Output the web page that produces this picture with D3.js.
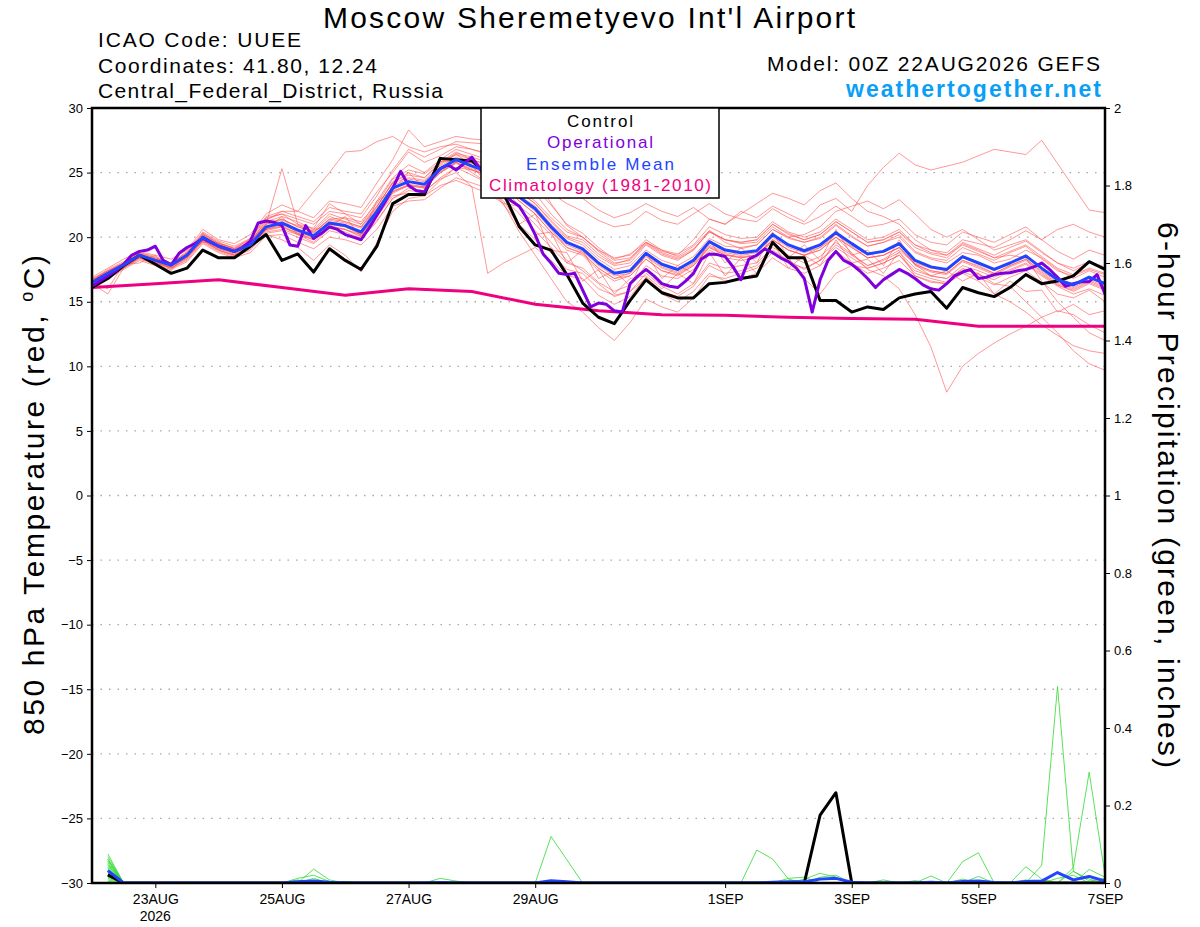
<!DOCTYPE html>
<html>
<head>
<meta charset="utf-8">
<script src="https://cdn.jsdelivr.net/npm/d3@7"></script>
<style>
  body { margin: 0; background: #fff; }
  svg { font-family: "Liberation Sans", Arial, Helvetica, sans-serif; }
</style>
</head>
<body>
<div id="chart"></div>
<script>
// ---- data (6-hourly from 00Z 22AUG2026) ----
const runStart = new Date(Date.UTC(2026, 7, 22, 0));
const runEnd = new Date(Date.UTC(2026, 8, 7, 0));

const dateTicks = ["2026-08-23", "2026-08-25", "2026-08-27", "2026-08-29", "2026-09-01", "2026-09-03", "2026-09-05", "2026-09-07"];
const dateLabels = ["23AUG", "25AUG", "27AUG", "29AUG", "1SEP", "3SEP", "5SEP", "7SEP"];
const tempTicks = [30, 25, 20, 15, 10, 5, 0, -5, -10, -15, -20, -25, -30];
const precipTicks = [2, 1.8, 1.6, 1.4, 1.2, 1, 0.8, 0.6, 0.4, 0.2, 0];
const precipTickLabels = ["2", "1.8", "1.6", "1.4", "1.2", "1", "0.8", "0.6", "0.4", "0.2", "0"];
const gridTemps = [25, 20, 15, 10, 5, 0, -5, -10, -15, -20, -25];

// control run, 850 hPa temp (6-hourly)
const controlT = [
  16.1, 16.8, 17.8, 18.6, 17.9, 17.2, 17.6, 19.0, 18.4, 18.4, 19.3, 20.2, 18.2,
  18.7, 17.3, 19.1, 18.2, 17.5, 19.3, 22.6, 23.3, 23.3, 26.1, 26.0, 25.9, 24.8,
  23.4, 20.8, 19.4, 19.0, 17.1, 14.9, 13.8, 13.3, 15.1, 16.7, 15.7, 15.3, 15.3,
  16.4, 16.5, 16.8, 17.0, 19.6, 18.4, 18.4, 15.1, 15.1, 14.2, 14.6, 14.4, 15.3,
  15.6, 15.8, 14.5, 16.1, 15.7, 15.4, 16.1, 17.1, 16.4, 16.6, 17.0, 18.1, 17.5
];

// operational run (3-hourly)
const operationalT = [
  16.2, 16.6, 17.0, 17.4, 17.9, 18.6, 18.9, 19.0, 19.3, 18.2, 17.85, 18.75, 19.2,
  19.5, 19.9, 19.6, 19.3, 19.1, 18.9, 19.2, 19.7, 21.1, 21.25, 21.15, 20.9, 19.4,
  19.3, 20.9, 19.9, 20.3, 20.8, 20.6, 20.2, 20.0, 19.8, 20.7, 21.7, 22.7, 23.8,
  25.1, 24.0, 23.6, 23.5, 24.6, 25.3, 25.6, 25.2, 25.7, 26.2, 25.3, 24.5, 23.8,
  23.3, 22.8, 22.4, 21.4, 20.2, 18.7, 18.0, 17.2, 17.1, 17.2, 15.9, 14.6, 14.9,
  14.8, 14.3, 14.2, 16.4, 17.0, 17.5, 17.0, 16.4, 16.2, 16.1, 16.6, 17.2, 18.3,
  18.7, 18.65, 18.5, 17.7, 16.7, 18.3, 18.6, 19.1, 18.8, 18.4, 18.1, 17.6, 16.8,
  14.2, 16.7, 18.2, 18.9, 18.2, 17.9, 17.4, 16.8, 16.1, 16.7, 17.1, 17.5, 17.2,
  16.8, 16.3, 16.0, 15.9, 16.4, 17.0, 17.3, 17.5, 16.8, 16.9, 17.1, 17.2, 17.25,
  17.4, 17.5, 17.7, 18.0, 17.5, 16.9, 16.2, 16.4, 16.55, 16.55, 17.1, 15.6
];

// ensemble mean (6-hourly)
const meanT = [
  16.5, 17.2, 17.85, 18.6, 18.2, 17.85, 18.6, 20.0, 19.3, 18.9, 19.4, 20.8, 21.1,
  20.55, 20.1, 21.1, 20.9, 20.4, 22.0, 23.8, 24.3, 24.1, 25.3, 26.0, 25.5, 25.1,
  24.3, 23.1, 22.2, 20.8, 19.6, 19.1, 18.0, 17.2, 17.4, 18.75, 17.9, 17.5, 18.2,
  19.65, 19.0, 18.8, 18.95, 20.2, 19.4, 18.95, 19.4, 20.35, 19.5, 18.7, 18.9, 19.5,
  18.2, 17.7, 17.5, 18.5, 18.0, 17.5, 18.0, 18.55, 17.6, 16.7, 16.3, 16.9, 16.4
];

// climatology 1981-2010 (daily, 00Z)
const climT = [16.1, 16.4, 16.7, 16.1, 15.5, 16.0, 15.8, 14.8, 14.3, 14.0, 13.95, 13.8, 13.7, 13.65, 13.1, 13.1, 13.1];

// perturbed members, 850 hPa temp (6-hourly)
const memberT = [
  [16.9,17.6,18.3,18.9,18.6,18.3,19.0,20.6,19.8,19.5,20.2,21.8,22.5, 22.0,21.5,22.8,22.6,22.3,24.2,26.0,28.3,27.0,27.4,27.8,27.6,27.5,
   27.0,25.8,24.9,24.0,23.3,23.0,22.1,21.5,21.9,22.6,22.0,21.6,22.3, 21.4,21.0,22.0,21.5,22.4,21.8,21.2,22.5,23.0,22.0,24.0,25.4,26.5,
   25.6,25.2,25.5,25.8,26.3,26.8,26.6,26.4,27.5,25.7,23.9,22.1,21.9],
  [16.2,16.9,17.6,18.3,17.9,17.6,18.2,19.6,18.9,18.5,19.0,20.3,20.5, 20.0,19.5,20.5,20.2,19.8,21.2,23.0,23.6,23.5,24.6,25.4,24.8,24.2,
   23.0,21.8,20.5,19.2,18.0,17.6,16.5,15.8,16.3,17.8,17.0,16.8,17.5, 19.0,18.4,18.2,18.4,19.8,19.0,18.6,19.2,20.0,18.8,17.5,17.0,16.0,
   14.0,11.5,8.0,10.0,11.0,11.8,12.5,13.1,13.8,14.3,14.0,13.2,12.6],
  [16.6,17.4,18.0,18.8,18.4,17.9,18.7,20.3,19.6,19.1,19.9,21.5,21.8, 21.0,20.3,21.4,21.5,21.2,22.6,24.5,25.2,24.9,25.8,26.4,25.6,24.0,
   22.5,21.0,19.8,18.8,17.5,17.2,16.0,15.5,15.8,17.2,16.2,15.6,16.4, 18.0,17.6,17.8,18.0,19.2,18.6,18.0,18.5,19.6,18.7,17.8,18.2,18.8,
   17.6,17.0,16.8,17.5,17.2,16.4,16.2,15.0,13.8,12.6,11.2,10.2,9.7],
  [16.4,17.0,17.6,18.4,18.0,17.7,18.5,19.8,19.1,18.8,19.6,21.0,25.3, 21.0,20.7,22.6,21.8,21.0,22.4,24.2,25.0,24.6,25.7,26.5,26.2,25.8,
   25.5,24.6,23.8,22.5,21.0,20.3,19.2,18.3,18.7,19.6,19.0,18.5,19.3, 20.5,19.6,19.1,19.4,20.6,19.9,19.6,19.9,20.9,20.0,19.3,19.6,20.0,
   18.8,18.3,18.0,18.8,18.6,18.0,18.3,19.0,18.4,17.5,16.8,17.4,16.9],
  [16.3,17.0,17.7,18.5,18.1,17.8,18.4,19.8,19.0,18.6,19.2,20.4,20.6, 20.2,19.6,20.7,20.4,19.9,21.3,23.0,23.8,23.6,24.5,25.0,23.9,17.2,
   18.0,18.6,19.2,18.2,17.0,16.8,15.5,14.8,15.4,16.9,15.8,15.4,16.2, 17.8,17.2,17.4,17.8,19.0,18.2,17.5,18.2,19.2,18.4,17.6,18.0,18.6,
   17.2,16.8,16.5,17.6,17.1,16.7,17.4,17.9,17.0,16.2,15.6,16.0,15.5],
  [16.7,17.5,18.1,18.8,18.5,18.0,18.9,20.4,19.7,19.3,19.9,21.6,22.0, 21.6,21.2,22.3,22.0,21.8,23.5,25.0,26.6,25.8,26.3,27.0,26.8,26.5,
   26.0,25.2,24.4,23.4,22.6,22.0,21.3,20.8,21.0,22.0,21.3,21.0,21.8, 22.6,21.8,21.4,21.2,22.2,21.5,21.0,21.6,22.4,21.6,20.8,21.0,21.4,
   20.2,19.6,19.4,20.4,20.0,19.6,20.2,20.8,19.8,18.9,18.3,19.0,18.6],
  [16.5,17.2,17.9,18.6,18.3,17.9,18.6,19.9,19.2,18.8,19.3,20.6,20.9, 20.3,19.8,20.8,20.6,20.0,21.6,23.4,24.0,23.9,25.0,25.8,25.0,24.2,
   22.6,20.4,18.6,16.8,15.0,14.2,13.0,12.0,13.4,15.2,14.6,14.2,15.3, 17.0,16.8,17.2,17.6,18.8,18.0,17.6,18.2,19.4,18.6,17.8,18.3,19.0,
   17.9,17.4,17.2,18.2,17.7,17.2,17.8,18.3,17.4,16.5,16.1,16.7,16.2],
  [16.8,17.4,18.0,18.7,18.3,18.0,18.8,20.2,19.5,19.1,19.7,21.2,21.6, 21.2,20.6,21.8,21.4,21.0,22.8,24.6,25.6,25.0,26.0,26.8,26.4,26.0,
   25.0,23.6,22.8,21.5,20.4,20.0,18.9,18.0,18.2,19.5,18.7,18.3,19.0, 20.5,19.8,19.6,19.8,21.0,20.3,19.8,20.2,21.2,20.4,19.6,19.8,20.4,
   19.2,18.7,18.4,19.5,19.0,18.4,18.6,18.4,16.6,15.0,13.8,12.6,12.0],
  [16.1,16.8,17.5,18.2,17.8,17.5,18.1,19.5,18.8,18.4,18.8,20.1,20.2, 19.6,19.1,20.0,19.8,19.4,20.6,22.4,22.8,22.9,23.8,24.6,24.2,23.8,
   22.8,21.0,21.8,19.0,18.8,16.6,17.5,15.6,16.8,17.0,16.0,17.2,16.4, 18.8,17.0,18.4,17.2,19.6,17.6,18.6,17.8,19.8,18.0,18.3,17.2,18.9,
   17.0,16.5,16.4,17.3,16.9,16.3,16.9,17.4,16.5,15.6,15.3,15.9,15.0],
  [16.6,17.3,18.0,18.7,18.2,17.9,18.6,20.1,19.4,19.0,19.6,21.0,21.3, 20.9,20.5,21.6,21.2,20.8,22.3,24.3,24.8,24.6,25.8,26.6,26.0,25.6,
   24.6,23.5,22.6,21.3,20.1,19.8,18.7,17.9,18.3,19.6,18.9,18.6,19.8, 21.4,21.0,21.8,22.6,23.4,23.0,22.5,23.6,24.2,23.0,22.0,21.6,21.0,
   19.8,19.0,18.6,19.4,18.9,18.4,18.9,19.4,18.5,17.6,17.1,17.6,17.2],
  [16.5,16.0,17.9,18.0,18.6,17.4,18.8,19.6,19.6,18.6,19.8,20.6,21.6, 20.2,20.6,20.8,21.6,20.0,22.8,23.6,25.0,23.8,25.9,25.8,26.2,25.0,
   24.4,23.0,22.0,20.6,19.2,18.8,17.6,16.8,17.2,18.6,17.7,17.3,18.0, 19.4,18.8,18.6,18.8,20.0,19.2,18.8,19.2,20.2,19.3,18.4,18.6,19.2,
   17.9,17.4,17.2,18.2,17.8,17.2,17.8,18.3,17.3,16.4,16.0,16.6,16.1],
  [16.3,17.0,17.7,18.4,18.0,17.7,18.4,19.8,19.1,18.7,19.3,20.6,21.0, 20.4,20.0,21.0,20.8,20.2,21.8,23.6,24.0,23.8,25.0,25.8,25.3,25.0,
   24.0,22.8,21.8,20.4,19.4,18.9,17.8,17.0,17.2,18.5,17.6,17.2,17.9, 19.3,18.7,18.4,18.6,19.6,18.4,16.8,15.6,17.2,17.8,17.6,18.0,18.6,
   17.4,17.0,16.8,17.8,17.4,16.9,17.5,18.0,17.1,16.3,15.8,16.4,15.9],
  [16.7,17.3,18.0,18.7,18.3,18.0,18.8,20.3,19.5,19.2,19.8,21.4,21.8, 21.4,21.0,22.0,21.8,21.5,23.2,25.2,26.8,26.2,26.8,27.4,27.3,27.2,
   26.8,26.2,24.8,22.6,20.9,20.0,19.0,18.2,18.4,19.6,18.8,18.4,19.1, 20.4,19.8,19.5,19.6,20.8,20.0,19.6,20.0,21.0,20.1,19.3,19.6,20.2,
   18.9,18.4,18.2,19.2,18.7,18.2,18.8,19.3,18.3,17.4,17.0,17.5,17.1],
  [16.4,15.6,17.6,18.5,18.1,17.6,18.3,19.7,19.0,18.6,19.1,20.2,19.8, 19.2,18.2,19.4,18.6,17.3,19.6,22.0,23.0,23.2,24.4,25.4,25.2,24.8,
   23.8,22.4,21.4,20.2,19.0,18.6,17.4,16.6,17.0,18.3,17.4,17.0,17.8, 19.2,18.6,18.4,18.6,19.8,19.0,18.6,19.0,20.0,19.2,18.4,18.6,19.2,
   18.0,17.6,17.4,18.4,18.0,17.4,18.0,18.6,17.6,16.8,16.4,16.9,16.5],
  [16.6,17.3,17.9,18.6,18.2,17.9,18.7,20.1,19.4,19.0,19.6,21.3,22.0, 22.0,23.5,25.0,26.6,26.7,27.4,27.8,27.0,26.6,27.0,27.2,26.8,26.4,
   25.4,24.2,23.4,21.8,20.6,20.0,19.0,18.4,18.6,19.8,19.0,18.7,19.4, 20.8,20.2,19.9,20.0,21.2,20.4,20.0,20.4,21.4,20.6,19.8,20.0,20.6,
   19.4,18.8,18.6,19.6,19.1,18.6,19.2,19.7,18.8,18.0,17.4,18.0,17.6],
  [16.2,16.9,17.6,18.4,18.0,17.7,18.5,19.8,19.2,18.8,19.3,20.6,20.8, 20.3,19.9,20.9,20.6,20.2,21.7,23.5,24.0,23.8,25.0,25.7,25.2,24.7,
   23.6,22.2,21.0,19.6,18.2,17.4,16.4,15.4,15.8,16.8,15.6,15.0,15.8, 17.2,16.6,16.8,17.2,18.4,17.6,17.2,17.8,18.9,18.0,17.2,17.6,18.2,
   17.0,16.6,16.4,17.2,16.6,15.6,15.0,14.2,13.2,12.4,11.6,11.2,11.0],
  [16.5,17.2,17.9,18.6,18.2,17.9,18.6,20.0,19.4,19.0,19.6,21.0,21.4, 20.8,20.4,21.4,21.2,20.8,22.4,24.2,24.6,24.4,25.6,26.4,26.0,25.6,
   24.8,23.5,22.6,21.2,20.0,19.6,18.5,17.8,18.0,19.4,18.6,18.2,19.0, 20.4,19.8,19.6,19.8,21.0,20.2,19.8,20.2,21.2,20.4,19.6,19.8,20.4,
   19.4,19.0,18.8,19.8,19.5,19.2,19.8,20.5,19.8,20.6,21.0,20.4,20.0],
  [16.4,17.1,17.7,18.5,18.1,17.8,18.5,19.9,19.2,18.8,19.3,20.7,21.0, 20.5,20.0,21.0,20.8,20.3,21.6,23.2,23.4,23.2,24.0,24.4,23.9,23.4,
   22.6,22.4,20.2,20.4,18.0,19.0,16.8,17.4,16.2,18.8,16.8,17.8,17.2, 19.8,18.0,19.2,18.0,20.4,18.4,19.4,18.2,20.6,18.6,19.0,17.8,19.8,
   17.8,17.3,17.1,18.1,17.6,17.1,17.7,18.2,17.2,16.3,15.9,16.5,16.0],
  [16.7,17.4,18.0,18.7,18.4,18.0,18.7,20.2,19.5,19.1,19.6,21.1,21.4, 20.8,20.4,21.3,21.1,20.7,22.2,24.0,24.5,24.3,25.5,26.2,25.7,25.3,
   24.5,23.2,22.4,21.0,19.9,19.4,18.3,17.5,17.8,19.0,18.2,17.8,18.5, 19.9,19.3,19.2,19.4,20.6,20.0,20.2,20.8,22.0,22.4,22.8,22.2,22.9,
   21.8,20.6,20.0,20.6,19.8,19.0,19.4,19.8,18.9,18.0,17.6,18.1,17.7],
  [16.4,17.0,17.7,18.4,18.0,17.6,18.4,19.7,19.0,18.6,19.2,20.5,20.8, 20.2,19.8,20.8,20.6,20.1,21.7,23.5,24.1,23.9,25.1,25.8,25.2,24.9,
   24.0,22.8,21.8,20.4,19.2,18.7,17.6,16.8,17.0,18.3,17.4,17.1,17.8, 19.2,18.6,18.5,18.6,19.8,19.0,18.6,19.0,20.0,19.2,18.4,18.6,19.2,
   17.9,17.0,17.4,16.6,17.2,15.6,16.6,15.8,15.9,14.2,14.8,14.0,14.3]
];

// 6-hour precipitation (inches); first step has no accumulation
const controlP = [
  null,0.021,0,0,0,0,0,0,0,0,0,0,0, 0,0,0,0,0,0,0,0,0,0,0,0,0,
  0,0,0,0,0,0,0,0,0,0,0,0,0, 0,0,0,0,0,0,0,0.175,0.233,0,0,0,0,
  0,0,0,0,0,0,0,0,0,0,0,0,0
];
const meanP = [
  null,0.032,0,0,0,0,0,0,0,0,0,0,0, 0.003,0.005,0.002,0,0,0,0,0,0,0.001,0,0,0,
  0,0,0,0.006,0.003,0,0,0,0,0,0,0,0, 0,0,0,0,0.002,0.003,0.003,0.01,0.012,0.002,0,0,0,
  0,0.002,0,0.004,0.005,0.001,0,0.004,0.005,0.027,0.008,0.017,0.005
];
const memberP = [
  [null,0.062,0,0,0,0,0,0,0,0,0,0,0, 0,0,0,0,0,0,0,0,0,0,0,0,0, 0,0,0,0.12,0.06,0,0,0,0,0,0,0,0, 0,0,0,0,0,0,0,0,0,0,0,0,0, 0,0,0,0,0,0,0,0,0.046,0.507,0.03,0.005,0.012],
  [null,0.075,0,0,0,0,0,0,0,0,0,0,0, 0,0,0,0,0,0,0,0,0,0,0,0,0, 0,0,0,0,0,0,0,0,0,0,0,0,0, 0,0,0,0.085,0.062,0.01,0,0,0,0,0,0,0, 0,0,0,0,0,0,0,0,0,0,0.04,0.286,0.02],
  [null,0.068,0,0,0,0,0,0,0,0,0,0,0, 0,0.036,0.008,0,0,0,0,0,0,0,0,0,0, 0,0,0,0,0,0,0,0,0,0,0,0,0, 0,0,0,0,0,0,0,0,0,0,0,0,0, 0,0,0,0.055,0.078,0,0,0,0,0,0,0,0],
  [null,0.06,0,0,0,0,0,0,0,0,0,0,0, 0.012,0.02,0.004,0,0,0,0,0,0,0,0,0,0, 0,0,0,0,0,0,0,0,0,0,0,0,0, 0,0,0,0,0,0,0.01,0.025,0.015,0,0,0,0, 0,0,0,0,0,0,0,0.042,0.01,0,0,0,0],
  [null,0.056,0,0,0,0,0,0,0,0,0,0,0, 0,0,0,0,0,0,0,0,0,0.012,0.005,0,0, 0,0,0,0,0,0,0,0,0,0,0,0,0, 0,0,0,0,0,0,0,0,0,0,0,0,0, 0,0.018,0,0,0.017,0,0,0,0,0,0,0,0],
  [null,0.052,0,0,0,0,0,0,0,0,0,0,0, 0,0,0,0,0,0,0,0,0,0,0,0,0, 0,0,0,0,0,0,0,0,0,0,0,0,0, 0,0,0,0,0,0,0,0.015,0.02,0,0,0,0, 0,0,0,0,0,0,0,0,0,0,0.03,0.01,0],
  [null,0.048,0,0,0,0,0,0,0,0,0,0,0, 0,0.012,0,0.004,0,0,0,0,0,0,0,0,0, 0,0,0,0,0,0,0,0,0,0,0,0,0, 0,0,0,0,0,0,0,0,0,0,0,0,0, 0,0,0,0,0,0,0,0,0,0.012,0.02,0,0],
  [null,0.045,0,0,0,0,0,0,0,0,0,0,0, 0,0,0,0,0,0,0,0,0,0,0,0,0, 0,0,0,0.004,0,0,0,0,0,0,0,0,0, 0,0,0,0,0,0,0,0,0,0,0,0,0, 0.006,0,0,0,0,0,0,0,0,0,0,0,0],
  [null,0.041,0,0,0,0,0,0,0,0,0,0,0, 0,0,0,0,0,0,0,0,0,0,0,0,0, 0,0,0,0,0,0,0,0,0,0,0,0,0, 0,0,0,0,0,0.012,0.015,0,0,0,0,0,0, 0,0,0,0,0,0,0,0,0,0,0,0,0],
  [null,0.038,0,0,0,0,0,0,0,0,0,0,0, 0.008,0,0,0,0,0,0,0,0,0,0,0,0, 0,0,0,0,0,0,0,0,0,0,0,0,0, 0,0,0,0,0,0,0,0,0,0,0,0,0, 0,0,0,0,0,0,0,0,0,0,0,0,0],
  [null,0.035,0,0,0,0,0,0,0,0,0,0,0, 0,0,0,0,0,0,0,0,0,0,0,0,0, 0,0,0,0,0,0,0,0,0,0,0,0,0, 0,0,0,0,0,0,0,0,0,0,0,0,0, 0,0,0,0,0,0,0,0,0,0,0,0.035,0.015],
  [null,0.032,0,0,0,0,0,0,0,0,0,0,0, 0,0,0,0,0,0,0,0,0,0,0,0,0, 0,0,0,0,0,0,0,0,0,0,0,0,0, 0,0,0,0,0,0,0,0,0,0,0,0.008,0, 0,0,0,0,0,0,0,0,0,0,0,0,0],
  [null,0.028,0,0,0,0,0,0,0,0,0,0,0, 0,0,0,0,0,0,0,0,0,0,0,0,0, 0,0,0,0,0,0,0,0,0,0,0,0,0, 0,0,0,0,0,0,0,0,0,0,0,0,0, 0,0,0,0,0.006,0,0,0,0,0,0,0,0],
  [null,0.025,0,0,0,0,0,0,0,0,0,0,0, 0,0,0,0,0,0,0,0,0,0,0,0,0, 0,0,0,0,0,0,0,0,0,0,0,0,0, 0,0,0,0,0,0,0,0,0,0,0,0,0, 0,0,0,0.01,0,0,0,0,0,0,0,0,0],
  [null,0.022,0,0,0,0,0,0,0,0,0,0,0, 0,0,0,0,0,0,0,0,0,0,0,0,0, 0,0,0,0,0,0,0,0,0,0,0,0,0, 0,0,0,0,0,0,0,0,0,0,0,0,0, 0,0,0,0,0,0,0,0,0,0,0,0,0],
  [null,0.018,0,0,0,0,0,0,0,0,0,0,0, 0,0,0,0,0,0,0,0,0,0,0,0,0, 0,0,0,0,0,0,0,0,0,0,0,0,0, 0,0,0,0,0,0,0,0,0,0,0,0,0, 0,0,0,0,0,0,0,0.008,0,0,0,0,0],
  [null,0.015,0,0,0,0,0,0,0,0,0,0,0, 0,0,0,0,0,0,0,0,0,0,0,0,0, 0,0,0,0,0,0,0,0,0,0,0,0,0, 0,0,0,0,0,0,0,0,0,0,0,0,0, 0,0,0,0,0,0,0,0,0,0,0,0,0],
  [null,0.012,0,0,0,0,0,0,0,0,0,0,0, 0,0,0,0,0,0,0,0,0,0,0,0,0, 0,0,0,0,0,0,0,0,0,0,0,0,0, 0,0,0,0,0,0,0,0,0,0,0,0,0, 0,0,0,0,0,0,0,0,0,0,0,0,0],
  [null,0.008,0,0,0,0,0,0,0,0,0,0,0, 0,0,0,0,0,0,0,0,0,0,0,0,0, 0,0,0,0,0,0,0,0,0,0,0,0,0, 0,0,0,0,0,0,0,0,0,0,0,0,0, 0,0,0,0,0,0,0,0,0,0,0,0,0],
  [null,0.004,0,0,0,0,0,0,0,0,0,0,0, 0,0,0,0,0,0,0,0,0,0,0,0,0, 0,0,0,0,0,0,0,0,0,0,0,0,0, 0,0,0,0,0,0,0,0,0,0,0,0,0, 0,0,0,0,0,0,0,0,0,0,0,0,0]
];

// ---- layout ----
const W = 1200, H = 927;
const plot = {left: 92, right: 1105, top: 108, bottom: 883};

const svg = d3.select("#chart").append("svg")
    .attr("width", W)
    .attr("height", H);

svg.append("rect").attr("width", W).attr("height", H).attr("fill", "#fff");

const x = d3.scaleUtc().domain([runStart, runEnd]).range([plot.left, plot.right]);
const yT = d3.scaleLinear().domain([-30, 30]).range([plot.bottom, plot.top]);
const yP = d3.scaleLinear().domain([0, 2]).range([plot.bottom, plot.top]);

const atHour = h => new Date(runStart.getTime() + h * 3600e3);

svg.append("clipPath").attr("id", "plotclip")
  .append("rect")
    .attr("x", plot.left).attr("y", plot.top)
    .attr("width", plot.right - plot.left).attr("height", plot.bottom - plot.top);

// dotted grid lines every 5 degrees
svg.append("g").selectAll("line")
  .data(gridTemps)
  .enter().append("line")
    .attr("x1", plot.left).attr("x2", plot.right)
    .attr("y1", d => yT(d)).attr("y2", d => yT(d))
    .attr("stroke", "#a8a8a8")
    .attr("stroke-width", 1.3)
    .attr("stroke-dasharray", "1.5,7");

const lines = svg.append("g").attr("clip-path", "url(#plotclip)");

const line6 = d3.line().x((d, i) => x(atHour(i * 6))).y(d => yT(d));
const line3 = d3.line().x((d, i) => x(atHour(i * 3))).y(d => yT(d));
const line24 = d3.line().x((d, i) => x(atHour(i * 24))).y(d => yT(d));
const lineP = d3.line()
    .defined(d => d != null)
    .x((d, i) => x(atHour(i * 6)))
    .y(d => yP(d));

// ensemble members (thin red)
lines.selectAll(".member")
  .data(memberT)
  .enter().append("path")
    .attr("class", "member")
    .attr("d", line6)
    .attr("fill", "none")
    .attr("stroke", "#ff5252")
    .attr("stroke-opacity", 0.75)
    .attr("stroke-width", 0.8);

// member precip (thin green)
lines.selectAll(".pmember")
  .data(memberP)
  .enter().append("path")
    .attr("class", "pmember")
    .attr("d", lineP)
    .attr("fill", "none")
    .attr("stroke", "#2edb2e")
    .attr("stroke-width", 0.8);

lines.append("path")
    .attr("d", line24(climT))
    .attr("fill", "none")
    .attr("stroke", "#ee0080")
    .attr("stroke-width", 3);

lines.append("path")
    .attr("d", line6(controlT))
    .attr("fill", "none")
    .attr("stroke", "#000")
    .attr("stroke-width", 3)
    .attr("stroke-linejoin", "round");

lines.append("path")
    .attr("d", line3(operationalT))
    .attr("fill", "none")
    .attr("stroke", "#7f00dd")
    .attr("stroke-width", 3)
    .attr("stroke-linejoin", "round");

lines.append("path")
    .attr("d", line6(meanT))
    .attr("fill", "none")
    .attr("stroke", "#2244ff")
    .attr("stroke-width", 3)
    .attr("stroke-linejoin", "round");

lines.append("path")
    .attr("d", lineP(controlP))
    .attr("fill", "none")
    .attr("stroke", "#000")
    .attr("stroke-width", 3)
    .attr("stroke-linejoin", "round");

lines.append("path")
    .attr("d", lineP(meanP))
    .attr("fill", "none")
    .attr("stroke", "#2244ff")
    .attr("stroke-width", 3)
    .attr("stroke-linejoin", "round");

// axes
const leftAxis = svg.append("g")
    .attr("transform", `translate(${plot.left},0)`)
    .call(d3.axisLeft(yT).tickValues(tempTicks).tickSize(5).tickPadding(4));

const rightAxis = svg.append("g")
    .attr("transform", `translate(${plot.right},0)`)
    .call(d3.axisRight(yP).tickValues(precipTicks).tickSize(5).tickPadding(4)
      .tickFormat((d, i) => precipTickLabels[i]));

const bottomAxis = svg.append("g")
    .attr("transform", `translate(0,${plot.bottom})`)
    .call(d3.axisBottom(x)
      .tickValues(dateTicks.map(s => new Date(s + "T00:00:00Z")))
      .tickSize(5).tickPadding(6)
      .tickFormat((d, i) => dateLabels[i]));

[leftAxis, rightAxis, bottomAxis].forEach(g => {
  g.select(".domain").remove();
  g.selectAll(".tick line").attr("stroke", "#000").attr("stroke-width", 1);
  g.selectAll("text")
    .attr("fill", "#000")
    .style("font-family", "'Liberation Sans', Arial, sans-serif");
});
leftAxis.selectAll("text").style("font-size", "13px");
rightAxis.selectAll("text").style("font-size", "13px");
bottomAxis.selectAll("text").style("font-size", "14px");

svg.append("text")
    .attr("x", x(new Date("2026-08-23T00:00:00Z")))
    .attr("y", 921)
    .attr("text-anchor", "middle")
    .style("font-size", "14px")
    .text("2026");

// frame
svg.append("rect")
    .attr("x", plot.left).attr("y", plot.top)
    .attr("width", plot.right - plot.left).attr("height", plot.bottom - plot.top)
    .attr("fill", "none")
    .attr("stroke", "#000")
    .attr("stroke-width", 2.5);

// legend box
const legend = svg.append("g");
legend.append("rect")
    .attr("x", 481).attr("y", 108)
    .attr("width", 238).attr("height", 90)
    .attr("fill", "#fff")
    .attr("stroke", "#000")
    .attr("stroke-width", 1.5);

const legendItems = [
  {label: "Control", color: "#000", y: 127, w: 66},
  {label: "Operational", color: "#7f00dd", y: 148, w: 106},
  {label: "Ensemble Mean", color: "#2244ff", y: 170, w: 148},
  {label: "Climatology (1981-2010)", color: "#ee0080", y: 191, w: 222}
];
legend.selectAll(".leg")
  .data(legendItems)
  .enter().append("text")
    .attr("x", 600)
    .attr("y", d => d.y)
    .attr("text-anchor", "middle")
    .attr("textLength", d => d.w)
    .attr("lengthAdjust", "spacing")
    .attr("fill", d => d.color)
    .style("font-size", "17px")
    .text(d => d.label);

// header texts
svg.append("text")
    .attr("x", 589).attr("y", 28)
    .attr("text-anchor", "middle")
    .attr("textLength", 532).attr("lengthAdjust", "spacing")
    .style("font-size", "30px")
    .text("Moscow Sheremetyevo Int'l Airport");

const infoLines = [
  {text: "ICAO Code: UUEE", y: 47, w: 203},
  {text: "Coordinates: 41.80, 12.24", y: 73, w: 279},
  {text: "Central_Federal_District, Russia", y: 98, w: 345}
];
svg.selectAll(".info")
  .data(infoLines)
  .enter().append("text")
    .attr("x", 98)
    .attr("y", d => d.y)
    .attr("textLength", d => d.w).attr("lengthAdjust", "spacing")
    .style("font-size", "21px")
    .text(d => d.text);

svg.append("text")
    .attr("x", 1100).attr("y", 71)
    .attr("text-anchor", "end")
    .attr("textLength", 333).attr("lengthAdjust", "spacing")
    .style("font-size", "21px")
    .text("Model: 00Z 22AUG2026 GEFS");

svg.append("text")
    .attr("x", 1101).attr("y", 97)
    .attr("text-anchor", "end")
    .attr("textLength", 255).attr("lengthAdjust", "spacing")
    .attr("fill", "#0a9ff5")
    .style("font-size", "23px")
    .style("font-weight", "bold")
    .text("weathertogether.net");

// axis titles
const leftTitle = svg.append("text")
    .attr("transform", "translate(44,495) rotate(-90)")
    .attr("text-anchor", "middle")
    .attr("textLength", 480).attr("lengthAdjust", "spacing")
    .style("font-size", "30px");
leftTitle.append("tspan").text("850 hPa Temperature (red, ");
leftTitle.append("tspan").attr("dy", -11).style("font-size", "18px").text("o");
leftTitle.append("tspan").attr("dy", 11).text("C)");

svg.append("text")
    .attr("transform", "translate(1158,495) rotate(90)")
    .attr("text-anchor", "middle")
    .attr("textLength", 546).attr("lengthAdjust", "spacing")
    .style("font-size", "30px")
    .text("6-hour Precipitation (green, inches)");
</script>
</body>
</html>
